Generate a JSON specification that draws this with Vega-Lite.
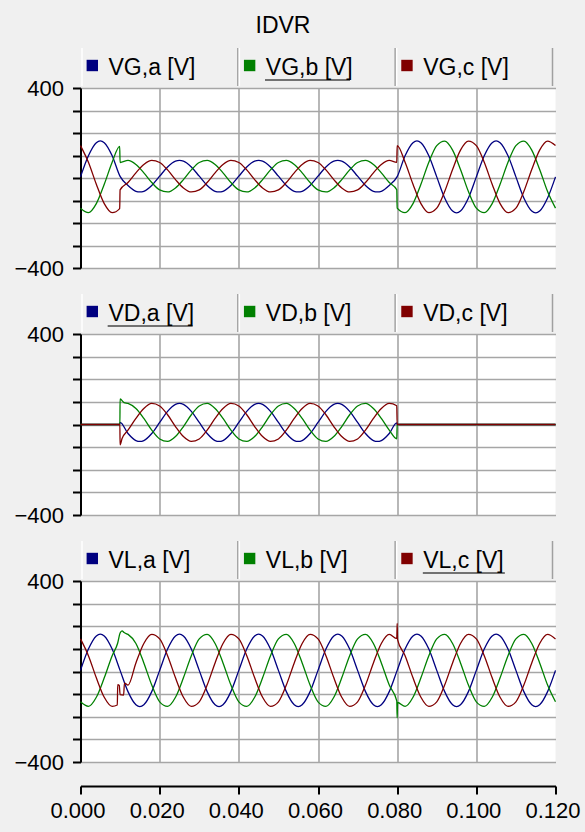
{
"$schema": "https://vega.github.io/schema/vega-lite/v6.json",
"background": "#f0f0f0",
"padding": {"left": 13.5, "top": 15, "right": 6.5, "bottom": 12},
"title": {"text": "IDVR", "fontSize": 23, "fontWeight": "normal", "color": "#000000", "anchor": "middle", "dx": -14, "offset": 9},
"config": {"font": "Liberation Sans", "view": {"stroke": null}},
"datasets": {
"G": [
{"s":"a","t":0,"v":5},{"s":"a","t":2,"v":99},{"s":"a","t":4,"v":157},{"s":"a","t":5,"v":165},{"s":"a","t":6,"v":157},{"s":"a","t":8,"v":99},{"s":"a","t":10,"v":7},{"s":"a","t":12,"v":-33},{"s":"a","t":14,"v":-59},{"s":"a","t":15,"v":-62},{"s":"a","t":16,"v":-59},{"s":"a","t":18,"v":-33},{"s":"a","t":20,"v":8},{"s":"a","t":22,"v":49},{"s":"a","t":24,"v":75},{"s":"a","t":25,"v":78},{"s":"a","t":26,"v":75},{"s":"a","t":28,"v":49},{"s":"a","t":30,"v":8},{"s":"a","t":32,"v":-33},{"s":"a","t":34,"v":-59},{"s":"a","t":35,"v":-62},{"s":"a","t":36,"v":-59},{"s":"a","t":38,"v":-33},{"s":"a","t":40,"v":8},{"s":"a","t":42,"v":49},{"s":"a","t":44,"v":75},{"s":"a","t":45,"v":78},{"s":"a","t":46,"v":75},{"s":"a","t":48,"v":49},{"s":"a","t":50,"v":8},{"s":"a","t":52,"v":-33},{"s":"a","t":54,"v":-59},{"s":"a","t":55,"v":-62},{"s":"a","t":56,"v":-59},{"s":"a","t":58,"v":-33},{"s":"a","t":60,"v":8},{"s":"a","t":62,"v":49},{"s":"a","t":64,"v":75},{"s":"a","t":65,"v":78},{"s":"a","t":66,"v":75},{"s":"a","t":68,"v":49},{"s":"a","t":70,"v":8},{"s":"a","t":72,"v":-33},{"s":"a","t":74,"v":-59},{"s":"a","t":75,"v":-62},{"s":"a","t":76,"v":-59},{"s":"a","t":78,"v":-33},{"s":"a","t":80,"v":6},{"s":"a","t":82,"v":99},{"s":"a","t":84,"v":157},{"s":"a","t":85,"v":165},{"s":"a","t":86,"v":157},{"s":"a","t":88,"v":99},{"s":"a","t":90,"v":5},{"s":"a","t":92,"v":-89},{"s":"a","t":94,"v":-147},{"s":"a","t":95,"v":-155},{"s":"a","t":96,"v":-147},{"s":"a","t":98,"v":-89},{"s":"a","t":100,"v":5},{"s":"a","t":102,"v":99},{"s":"a","t":104,"v":157},{"s":"a","t":105,"v":165},{"s":"a","t":106,"v":157},{"s":"a","t":108,"v":99},{"s":"a","t":110,"v":5},{"s":"a","t":112,"v":-89},{"s":"a","t":114,"v":-147},{"s":"a","t":115,"v":-155},{"s":"a","t":116,"v":-147},{"s":"a","t":118,"v":-89},{"s":"a","t":120,"v":5},
{"s":"b","t":0,"v":-134},{"s":"b","t":2,"v":-154},{"s":"b","t":4,"v":-114},{"s":"b","t":6,"v":-28},{"s":"b","t":8,"v":70},{"s":"b","t":9.9,"v":141},{"s":"b","t":10,"v":69},{"s":"b","t":12,"v":78},{"s":"b","t":14,"v":60},{"s":"b","t":16,"v":23},{"s":"b","t":18,"v":-20},{"s":"b","t":20,"v":-53},{"s":"b","t":22,"v":-62},{"s":"b","t":24,"v":-44},{"s":"b","t":26,"v":-7},{"s":"b","t":28,"v":36},{"s":"b","t":30,"v":69},{"s":"b","t":32,"v":78},{"s":"b","t":34,"v":60},{"s":"b","t":36,"v":23},{"s":"b","t":38,"v":-20},{"s":"b","t":40,"v":-53},{"s":"b","t":42,"v":-62},{"s":"b","t":44,"v":-44},{"s":"b","t":46,"v":-7},{"s":"b","t":48,"v":36},{"s":"b","t":50,"v":69},{"s":"b","t":52,"v":78},{"s":"b","t":54,"v":60},{"s":"b","t":56,"v":23},{"s":"b","t":58,"v":-20},{"s":"b","t":60,"v":-53},{"s":"b","t":62,"v":-62},{"s":"b","t":64,"v":-44},{"s":"b","t":66,"v":-7},{"s":"b","t":68,"v":36},{"s":"b","t":70,"v":69},{"s":"b","t":72,"v":78},{"s":"b","t":74,"v":60},{"s":"b","t":76,"v":23},{"s":"b","t":78,"v":-20},{"s":"b","t":79.9,"v":-52},{"s":"b","t":80,"v":-134},{"s":"b","t":82,"v":-154},{"s":"b","t":84,"v":-114},{"s":"b","t":86,"v":-28},{"s":"b","t":88,"v":70},{"s":"b","t":90,"v":144},{"s":"b","t":92,"v":164},{"s":"b","t":94,"v":124},{"s":"b","t":96,"v":38},{"s":"b","t":98,"v":-60},{"s":"b","t":100,"v":-134},{"s":"b","t":102,"v":-154},{"s":"b","t":104,"v":-114},{"s":"b","t":106,"v":-28},{"s":"b","t":108,"v":70},{"s":"b","t":110,"v":144},{"s":"b","t":112,"v":164},{"s":"b","t":114,"v":124},{"s":"b","t":116,"v":38},{"s":"b","t":118,"v":-60},{"s":"b","t":120,"v":-134},
{"s":"c","t":0,"v":144},{"s":"c","t":2,"v":70},{"s":"c","t":4,"v":-28},{"s":"c","t":6,"v":-114},{"s":"c","t":8,"v":-154},{"s":"c","t":9.9,"v":-136},{"s":"c","t":10,"v":-53},{"s":"c","t":12,"v":-20},{"s":"c","t":14,"v":23},{"s":"c","t":16,"v":60},{"s":"c","t":18,"v":78},{"s":"c","t":20,"v":69},{"s":"c","t":22,"v":36},{"s":"c","t":24,"v":-7},{"s":"c","t":26,"v":-44},{"s":"c","t":28,"v":-62},{"s":"c","t":30,"v":-53},{"s":"c","t":32,"v":-20},{"s":"c","t":34,"v":23},{"s":"c","t":36,"v":60},{"s":"c","t":38,"v":78},{"s":"c","t":40,"v":69},{"s":"c","t":42,"v":36},{"s":"c","t":44,"v":-7},{"s":"c","t":46,"v":-44},{"s":"c","t":48,"v":-62},{"s":"c","t":50,"v":-53},{"s":"c","t":52,"v":-20},{"s":"c","t":54,"v":23},{"s":"c","t":56,"v":60},{"s":"c","t":58,"v":78},{"s":"c","t":60,"v":69},{"s":"c","t":62,"v":36},{"s":"c","t":64,"v":-7},{"s":"c","t":66,"v":-44},{"s":"c","t":68,"v":-62},{"s":"c","t":70,"v":-53},{"s":"c","t":72,"v":-20},{"s":"c","t":74,"v":23},{"s":"c","t":76,"v":60},{"s":"c","t":78,"v":78},{"s":"c","t":79.9,"v":70},{"s":"c","t":80,"v":144},{"s":"c","t":82,"v":70},{"s":"c","t":84,"v":-28},{"s":"c","t":86,"v":-114},{"s":"c","t":88,"v":-154},{"s":"c","t":90,"v":-134},{"s":"c","t":92,"v":-60},{"s":"c","t":94,"v":38},{"s":"c","t":96,"v":124},{"s":"c","t":98,"v":164},{"s":"c","t":100,"v":144},{"s":"c","t":102,"v":70},{"s":"c","t":104,"v":-28},{"s":"c","t":106,"v":-114},{"s":"c","t":108,"v":-154},{"s":"c","t":110,"v":-134},{"s":"c","t":112,"v":-60},{"s":"c","t":114,"v":38},{"s":"c","t":116,"v":124},{"s":"c","t":118,"v":164},{"s":"c","t":120,"v":144}
],
"D": [
{"s":"a","t":0,"v":0},{"s":"a","t":9.9,"v":0},{"s":"a","t":10,"v":9},{"s":"a","t":12,"v":-40},{"s":"a","t":14,"v":-71},{"s":"a","t":15,"v":-75},{"s":"a","t":16,"v":-71},{"s":"a","t":18,"v":-40},{"s":"a","t":20,"v":9},{"s":"a","t":22,"v":58},{"s":"a","t":24,"v":89},{"s":"a","t":25,"v":93},{"s":"a","t":26,"v":89},{"s":"a","t":28,"v":58},{"s":"a","t":30,"v":9},{"s":"a","t":32,"v":-40},{"s":"a","t":34,"v":-71},{"s":"a","t":35,"v":-75},{"s":"a","t":36,"v":-71},{"s":"a","t":38,"v":-40},{"s":"a","t":40,"v":9},{"s":"a","t":42,"v":58},{"s":"a","t":44,"v":89},{"s":"a","t":45,"v":93},{"s":"a","t":46,"v":89},{"s":"a","t":48,"v":58},{"s":"a","t":50,"v":9},{"s":"a","t":52,"v":-40},{"s":"a","t":54,"v":-71},{"s":"a","t":55,"v":-75},{"s":"a","t":56,"v":-71},{"s":"a","t":58,"v":-40},{"s":"a","t":60,"v":9},{"s":"a","t":62,"v":58},{"s":"a","t":64,"v":89},{"s":"a","t":65,"v":93},{"s":"a","t":66,"v":89},{"s":"a","t":68,"v":58},{"s":"a","t":70,"v":9},{"s":"a","t":72,"v":-40},{"s":"a","t":74,"v":-71},{"s":"a","t":75,"v":-75},{"s":"a","t":76,"v":-71},{"s":"a","t":78,"v":-40},{"s":"a","t":79.9,"v":7},{"s":"a","t":80,"v":0},{"s":"a","t":120,"v":0},
{"s":"b","t":0,"v":0},{"s":"b","t":9.95,"v":0},{"s":"b","t":10,"v":113},{"s":"b","t":11,"v":97},{"s":"b","t":12,"v":93},{"s":"b","t":14,"v":71},{"s":"b","t":16,"v":27},{"s":"b","t":18,"v":-25},{"s":"b","t":20,"v":-64},{"s":"b","t":22,"v":-75},{"s":"b","t":24,"v":-53},{"s":"b","t":26,"v":-9},{"s":"b","t":28,"v":43},{"s":"b","t":30,"v":82},{"s":"b","t":32,"v":93},{"s":"b","t":34,"v":71},{"s":"b","t":36,"v":27},{"s":"b","t":38,"v":-25},{"s":"b","t":40,"v":-64},{"s":"b","t":42,"v":-75},{"s":"b","t":44,"v":-53},{"s":"b","t":46,"v":-9},{"s":"b","t":48,"v":43},{"s":"b","t":50,"v":82},{"s":"b","t":52,"v":93},{"s":"b","t":54,"v":71},{"s":"b","t":56,"v":27},{"s":"b","t":58,"v":-25},{"s":"b","t":60,"v":-64},{"s":"b","t":62,"v":-75},{"s":"b","t":64,"v":-53},{"s":"b","t":66,"v":-9},{"s":"b","t":68,"v":43},{"s":"b","t":70,"v":82},{"s":"b","t":72,"v":93},{"s":"b","t":74,"v":71},{"s":"b","t":76,"v":27},{"s":"b","t":78,"v":-25},{"s":"b","t":79.9,"v":-63},{"s":"b","t":80,"v":0},{"s":"b","t":120,"v":0},
{"s":"c","t":0,"v":0},{"s":"c","t":9.95,"v":0},{"s":"c","t":10,"v":-90},{"s":"c","t":10.5,"v":-62},{"s":"c","t":12,"v":-25},{"s":"c","t":14,"v":27},{"s":"c","t":16,"v":71},{"s":"c","t":18,"v":93},{"s":"c","t":20,"v":82},{"s":"c","t":22,"v":43},{"s":"c","t":24,"v":-9},{"s":"c","t":26,"v":-53},{"s":"c","t":28,"v":-75},{"s":"c","t":30,"v":-64},{"s":"c","t":32,"v":-25},{"s":"c","t":34,"v":27},{"s":"c","t":36,"v":71},{"s":"c","t":38,"v":93},{"s":"c","t":40,"v":82},{"s":"c","t":42,"v":43},{"s":"c","t":44,"v":-9},{"s":"c","t":46,"v":-53},{"s":"c","t":48,"v":-75},{"s":"c","t":50,"v":-64},{"s":"c","t":52,"v":-25},{"s":"c","t":54,"v":27},{"s":"c","t":56,"v":71},{"s":"c","t":58,"v":93},{"s":"c","t":60,"v":82},{"s":"c","t":62,"v":43},{"s":"c","t":64,"v":-9},{"s":"c","t":66,"v":-53},{"s":"c","t":68,"v":-75},{"s":"c","t":70,"v":-64},{"s":"c","t":72,"v":-25},{"s":"c","t":74,"v":27},{"s":"c","t":76,"v":71},{"s":"c","t":78,"v":93},{"s":"c","t":79.9,"v":83},{"s":"c","t":80,"v":0},{"s":"c","t":120,"v":0}
],
"L": [
{"s":"a","t":0,"v":5},{"s":"a","t":2,"v":99},{"s":"a","t":4,"v":157},{"s":"a","t":5,"v":165},{"s":"a","t":6,"v":157},{"s":"a","t":8,"v":99},{"s":"a","t":10,"v":5},{"s":"a","t":12,"v":-89},{"s":"a","t":14,"v":-147},{"s":"a","t":15,"v":-155},{"s":"a","t":16,"v":-147},{"s":"a","t":18,"v":-89},{"s":"a","t":20,"v":5},{"s":"a","t":22,"v":99},{"s":"a","t":24,"v":157},{"s":"a","t":25,"v":165},{"s":"a","t":26,"v":157},{"s":"a","t":28,"v":99},{"s":"a","t":30,"v":5},{"s":"a","t":32,"v":-89},{"s":"a","t":34,"v":-147},{"s":"a","t":35,"v":-155},{"s":"a","t":36,"v":-147},{"s":"a","t":38,"v":-89},{"s":"a","t":40,"v":5},{"s":"a","t":42,"v":99},{"s":"a","t":44,"v":157},{"s":"a","t":45,"v":165},{"s":"a","t":46,"v":157},{"s":"a","t":48,"v":99},{"s":"a","t":50,"v":5},{"s":"a","t":52,"v":-89},{"s":"a","t":54,"v":-147},{"s":"a","t":55,"v":-155},{"s":"a","t":56,"v":-147},{"s":"a","t":58,"v":-89},{"s":"a","t":60,"v":5},{"s":"a","t":62,"v":99},{"s":"a","t":64,"v":157},{"s":"a","t":65,"v":165},{"s":"a","t":66,"v":157},{"s":"a","t":68,"v":99},{"s":"a","t":70,"v":5},{"s":"a","t":72,"v":-89},{"s":"a","t":74,"v":-147},{"s":"a","t":75,"v":-155},{"s":"a","t":76,"v":-147},{"s":"a","t":78,"v":-89},{"s":"a","t":80,"v":5},{"s":"a","t":82,"v":99},{"s":"a","t":84,"v":157},{"s":"a","t":85,"v":165},{"s":"a","t":86,"v":157},{"s":"a","t":88,"v":99},{"s":"a","t":90,"v":5},{"s":"a","t":92,"v":-89},{"s":"a","t":94,"v":-147},{"s":"a","t":95,"v":-155},{"s":"a","t":96,"v":-147},{"s":"a","t":98,"v":-89},{"s":"a","t":100,"v":5},{"s":"a","t":102,"v":99},{"s":"a","t":104,"v":157},{"s":"a","t":105,"v":165},{"s":"a","t":106,"v":157},{"s":"a","t":108,"v":99},{"s":"a","t":110,"v":5},{"s":"a","t":112,"v":-89},{"s":"a","t":114,"v":-147},{"s":"a","t":115,"v":-155},{"s":"a","t":116,"v":-147},{"s":"a","t":118,"v":-89},{"s":"a","t":120,"v":5},
{"s":"b","t":0,"v":-134},{"s":"b","t":2,"v":-154},{"s":"b","t":4,"v":-114},{"s":"b","t":6,"v":-28},{"s":"b","t":8,"v":70},{"s":"b","t":9.4,"v":126},{"s":"b","t":10,"v":170},{"s":"b","t":10.5,"v":180},{"s":"b","t":11,"v":172},{"s":"b","t":12,"v":164},{"s":"b","t":14,"v":124},{"s":"b","t":16,"v":38},{"s":"b","t":18,"v":-60},{"s":"b","t":20,"v":-134},{"s":"b","t":22,"v":-154},{"s":"b","t":24,"v":-114},{"s":"b","t":26,"v":-28},{"s":"b","t":28,"v":70},{"s":"b","t":30,"v":144},{"s":"b","t":32,"v":164},{"s":"b","t":34,"v":124},{"s":"b","t":36,"v":38},{"s":"b","t":38,"v":-60},{"s":"b","t":40,"v":-134},{"s":"b","t":42,"v":-154},{"s":"b","t":44,"v":-114},{"s":"b","t":46,"v":-28},{"s":"b","t":48,"v":70},{"s":"b","t":50,"v":144},{"s":"b","t":52,"v":164},{"s":"b","t":54,"v":124},{"s":"b","t":56,"v":38},{"s":"b","t":58,"v":-60},{"s":"b","t":60,"v":-134},{"s":"b","t":62,"v":-154},{"s":"b","t":64,"v":-114},{"s":"b","t":66,"v":-28},{"s":"b","t":68,"v":70},{"s":"b","t":70,"v":144},{"s":"b","t":72,"v":164},{"s":"b","t":74,"v":124},{"s":"b","t":76,"v":38},{"s":"b","t":78,"v":-60},{"s":"b","t":79.9,"v":-130},{"s":"b","t":80,"v":-205},{"s":"b","t":80.1,"v":-137},{"s":"b","t":82,"v":-154},{"s":"b","t":84,"v":-114},{"s":"b","t":86,"v":-28},{"s":"b","t":88,"v":70},{"s":"b","t":90,"v":144},{"s":"b","t":92,"v":164},{"s":"b","t":94,"v":124},{"s":"b","t":96,"v":38},{"s":"b","t":98,"v":-60},{"s":"b","t":100,"v":-134},{"s":"b","t":102,"v":-154},{"s":"b","t":104,"v":-114},{"s":"b","t":106,"v":-28},{"s":"b","t":108,"v":70},{"s":"b","t":110,"v":144},{"s":"b","t":112,"v":164},{"s":"b","t":114,"v":124},{"s":"b","t":116,"v":38},{"s":"b","t":118,"v":-60},{"s":"b","t":120,"v":-134},
{"s":"c","t":0,"v":144},{"s":"c","t":2,"v":70},{"s":"c","t":4,"v":-28},{"s":"c","t":6,"v":-114},{"s":"c","t":8,"v":-154},{"s":"c","t":9.3,"v":-148},{"s":"c","t":9.4,"v":-58},{"s":"c","t":9.8,"v":-62},{"s":"c","t":10,"v":-102},{"s":"c","t":10.9,"v":-104},{"s":"c","t":11.1,"v":-51},{"s":"c","t":12,"v":-60},{"s":"c","t":14,"v":38},{"s":"c","t":16,"v":124},{"s":"c","t":18,"v":164},{"s":"c","t":20,"v":144},{"s":"c","t":22,"v":70},{"s":"c","t":24,"v":-28},{"s":"c","t":26,"v":-114},{"s":"c","t":28,"v":-154},{"s":"c","t":30,"v":-134},{"s":"c","t":32,"v":-60},{"s":"c","t":34,"v":38},{"s":"c","t":36,"v":124},{"s":"c","t":38,"v":164},{"s":"c","t":40,"v":144},{"s":"c","t":42,"v":70},{"s":"c","t":44,"v":-28},{"s":"c","t":46,"v":-114},{"s":"c","t":48,"v":-154},{"s":"c","t":50,"v":-134},{"s":"c","t":52,"v":-60},{"s":"c","t":54,"v":38},{"s":"c","t":56,"v":124},{"s":"c","t":58,"v":164},{"s":"c","t":60,"v":144},{"s":"c","t":62,"v":70},{"s":"c","t":64,"v":-28},{"s":"c","t":66,"v":-114},{"s":"c","t":68,"v":-154},{"s":"c","t":70,"v":-134},{"s":"c","t":72,"v":-60},{"s":"c","t":74,"v":38},{"s":"c","t":76,"v":124},{"s":"c","t":78,"v":164},{"s":"c","t":79.9,"v":146},{"s":"c","t":80,"v":213},{"s":"c","t":80.1,"v":141},{"s":"c","t":82,"v":70},{"s":"c","t":84,"v":-28},{"s":"c","t":86,"v":-114},{"s":"c","t":88,"v":-154},{"s":"c","t":90,"v":-134},{"s":"c","t":92,"v":-60},{"s":"c","t":94,"v":38},{"s":"c","t":96,"v":124},{"s":"c","t":98,"v":164},{"s":"c","t":100,"v":144},{"s":"c","t":102,"v":70},{"s":"c","t":104,"v":-28},{"s":"c","t":106,"v":-114},{"s":"c","t":108,"v":-154},{"s":"c","t":110,"v":-134},{"s":"c","t":112,"v":-60},{"s":"c","t":114,"v":38},{"s":"c","t":116,"v":124},{"s":"c","t":118,"v":164},{"s":"c","t":120,"v":144}
]
},
"spacing": 14,
"vconcat": [
{"bounds": "flush", "spacing": 2, "vconcat": [
 {"width": 472, "height": 38,
  "data": {"values": [{"s":"a","n":"VG,a [V]"},{"s":"b","n":"VG,b [V]"},{"s":"c","n":"VG,c [V]"}]},
  "encoding": {"x": {"field": "n", "type": "nominal", "sort": null, "axis": null, "scale": {"paddingInner": 0, "paddingOuter": 0}}},
  "layer": [
   {"mark": {"type": "rule", "color": "#a0a0a0", "strokeWidth": 1.5}, "encoding": {"x": {"field": "n", "type": "nominal", "sort": null, "bandPosition": 1}}},
   {"mark": {"type": "rule", "color": "#ffffff", "strokeWidth": 1.5, "xOffset": 1.5}, "encoding": {"x": {"field": "n", "type": "nominal", "sort": null, "bandPosition": 0}}},
   {"mark": {"type": "square", "size": 130, "opacity": 1, "filled": true, "yOffset": -1.5}, "encoding": {"x": {"field": "n", "type": "nominal", "sort": null, "bandPosition": 0.075}, "color": {"field": "s", "type": "nominal", "scale": {"domain": ["a","b","c"], "range": ["#000080","#008000","#800000"]}, "legend": null}}},
   {"mark": {"type": "text", "align": "left", "baseline": "middle", "fontSize": 23, "color": "#000000", "yOffset": 1}, "encoding": {"x": {"field": "n", "type": "nominal", "sort": null, "bandPosition": 0.178}, "text": {"field": "n"}}},
   {"transform": [{"filter": "datum.s == 'b'"}], "mark": {"type": "tick", "orient": "horizontal", "size": 85, "thickness": 1.5, "color": "#000000", "yOffset": 13, "xOffset": -9}, "encoding": {"x": {"field": "n", "type": "nominal", "sort": null}}}
  ]},
 {"width": 475, "height": 180, "view": {"fill": "#ffffff", "stroke": null},
  "data": {"name": "G"},
  "mark": {"type": "line", "interpolate": "monotone", "strokeWidth": 1.3},
  "encoding": {
   "x": {"field": "t", "type": "quantitative", "scale": {"domain": [0, 120], "nice": false}, "axis": {"values": [0,20,40,60,80,100], "grid": true, "gridColor": "#a6a6a6", "gridWidth": 1.6, "labels": false, "ticks": false, "domain": false, "title": null}},
   "y": {"field": "v", "type": "quantitative", "scale": {"domain": [-400, 400], "nice": false}, "axis": {"values": [-400,-300,-200,-100,0,100,200,300,400], "labelExpr": "abs(datum.value) == 400 ? datum.label : ''", "title": null, "grid": true, "gridColor": "#a6a6a6", "gridWidth": 1.6, "domainColor": "#000000", "domainWidth": 2, "tickColor": "#000000", "tickWidth": 2, "tickSize": 8, "labelFontSize": 22, "labelPadding": 9, "labelColor": "#000000", "labelOverlap": false}},
   "color": {"field": "s", "type": "nominal", "scale": {"domain": ["a","b","c"], "range": ["#000080","#008000","#800000"]}, "legend": null}
  }}
]},
{"bounds": "flush", "spacing": 2, "vconcat": [
 {"width": 472, "height": 38,
  "data": {"values": [{"s":"a","n":"VD,a [V]"},{"s":"b","n":"VD,b [V]"},{"s":"c","n":"VD,c [V]"}]},
  "encoding": {"x": {"field": "n", "type": "nominal", "sort": null, "axis": null, "scale": {"paddingInner": 0, "paddingOuter": 0}}},
  "layer": [
   {"mark": {"type": "rule", "color": "#a0a0a0", "strokeWidth": 1.5}, "encoding": {"x": {"field": "n", "type": "nominal", "sort": null, "bandPosition": 1}}},
   {"mark": {"type": "rule", "color": "#ffffff", "strokeWidth": 1.5, "xOffset": 1.5}, "encoding": {"x": {"field": "n", "type": "nominal", "sort": null, "bandPosition": 0}}},
   {"mark": {"type": "square", "size": 130, "opacity": 1, "filled": true, "yOffset": -1.5}, "encoding": {"x": {"field": "n", "type": "nominal", "sort": null, "bandPosition": 0.075}, "color": {"field": "s", "type": "nominal", "scale": {"domain": ["a","b","c"], "range": ["#000080","#008000","#800000"]}, "legend": null}}},
   {"mark": {"type": "text", "align": "left", "baseline": "middle", "fontSize": 23, "color": "#000000", "yOffset": 1}, "encoding": {"x": {"field": "n", "type": "nominal", "sort": null, "bandPosition": 0.178}, "text": {"field": "n"}}},
   {"transform": [{"filter": "datum.s == 'a'"}], "mark": {"type": "tick", "orient": "horizontal", "size": 85, "thickness": 1.5, "color": "#000000", "yOffset": 13, "xOffset": -9}, "encoding": {"x": {"field": "n", "type": "nominal", "sort": null}}}
  ]},
 {"width": 475, "height": 181, "view": {"fill": "#ffffff", "stroke": null},
  "data": {"name": "D"},
  "mark": {"type": "line", "interpolate": "monotone", "strokeWidth": 1.3},
  "encoding": {
   "x": {"field": "t", "type": "quantitative", "scale": {"domain": [0, 120], "nice": false}, "axis": {"values": [0,20,40,60,80,100], "grid": true, "gridColor": "#a6a6a6", "gridWidth": 1.6, "labels": false, "ticks": false, "domain": false, "title": null}},
   "y": {"field": "v", "type": "quantitative", "scale": {"domain": [-400, 400], "nice": false}, "axis": {"values": [-400,-300,-200,-100,0,100,200,300,400], "labelExpr": "abs(datum.value) == 400 ? datum.label : ''", "title": null, "grid": true, "gridColor": "#a6a6a6", "gridWidth": 1.6, "domainColor": "#000000", "domainWidth": 2, "tickColor": "#000000", "tickWidth": 2, "tickSize": 8, "labelFontSize": 22, "labelPadding": 9, "labelColor": "#000000", "labelOverlap": false}},
   "color": {"field": "s", "type": "nominal", "scale": {"domain": ["a","b","c"], "range": ["#000080","#008000","#800000"]}, "legend": null}
  }}
]},
{"bounds": "flush", "spacing": 2, "vconcat": [
 {"width": 472, "height": 38,
  "data": {"values": [{"s":"a","n":"VL,a [V]"},{"s":"b","n":"VL,b [V]"},{"s":"c","n":"VL,c [V]"}]},
  "encoding": {"x": {"field": "n", "type": "nominal", "sort": null, "axis": null, "scale": {"paddingInner": 0, "paddingOuter": 0}}},
  "layer": [
   {"mark": {"type": "rule", "color": "#a0a0a0", "strokeWidth": 1.5}, "encoding": {"x": {"field": "n", "type": "nominal", "sort": null, "bandPosition": 1}}},
   {"mark": {"type": "rule", "color": "#ffffff", "strokeWidth": 1.5, "xOffset": 1.5}, "encoding": {"x": {"field": "n", "type": "nominal", "sort": null, "bandPosition": 0}}},
   {"mark": {"type": "square", "size": 130, "opacity": 1, "filled": true, "yOffset": -1.5}, "encoding": {"x": {"field": "n", "type": "nominal", "sort": null, "bandPosition": 0.075}, "color": {"field": "s", "type": "nominal", "scale": {"domain": ["a","b","c"], "range": ["#000080","#008000","#800000"]}, "legend": null}}},
   {"mark": {"type": "text", "align": "left", "baseline": "middle", "fontSize": 23, "color": "#000000", "yOffset": 1}, "encoding": {"x": {"field": "n", "type": "nominal", "sort": null, "bandPosition": 0.178}, "text": {"field": "n"}}},
   {"transform": [{"filter": "datum.s == 'c'"}], "mark": {"type": "tick", "orient": "horizontal", "size": 82, "thickness": 1.5, "color": "#000000", "yOffset": 13, "xOffset": -10}, "encoding": {"x": {"field": "n", "type": "nominal", "sort": null}}}
  ]},
 {"width": 475, "height": 181, "view": {"fill": "#ffffff", "stroke": null},
  "data": {"name": "L"},
  "mark": {"type": "line", "interpolate": "monotone", "strokeWidth": 1.3},
  "encoding": {
   "x": {"field": "t", "type": "quantitative", "scale": {"domain": [0, 120], "nice": false}, "axis": {"values": [0,20,40,60,80,100,120], "labelExpr": "format(datum.value/1000, '.3f')", "offset": 24, "grid": true, "gridColor": "#a6a6a6", "gridWidth": 1.6, "gridOpacity": {"condition": {"test": "datum.value >= 120", "value": 0}, "value": 1}, "domainColor": "#000000", "domainWidth": 2, "tickColor": "#000000", "tickWidth": 2, "tickSize": 8, "labelFontSize": 22, "labelPadding": 6, "labelColor": "#000000", "labelFlush": false, "labelOffset": -3, "labelOverlap": false, "title": null}},
   "y": {"field": "v", "type": "quantitative", "scale": {"domain": [-400, 400], "nice": false}, "axis": {"values": [-400,-300,-200,-100,0,100,200,300,400], "labelExpr": "abs(datum.value) == 400 ? datum.label : ''", "title": null, "grid": true, "gridColor": "#a6a6a6", "gridWidth": 1.6, "domainColor": "#000000", "domainWidth": 2, "tickColor": "#000000", "tickWidth": 2, "tickSize": 8, "labelFontSize": 22, "labelPadding": 9, "labelColor": "#000000", "labelOverlap": false}},
   "color": {"field": "s", "type": "nominal", "scale": {"domain": ["a","b","c"], "range": ["#000080","#008000","#800000"]}, "legend": null}
  }}
]}
]
}
